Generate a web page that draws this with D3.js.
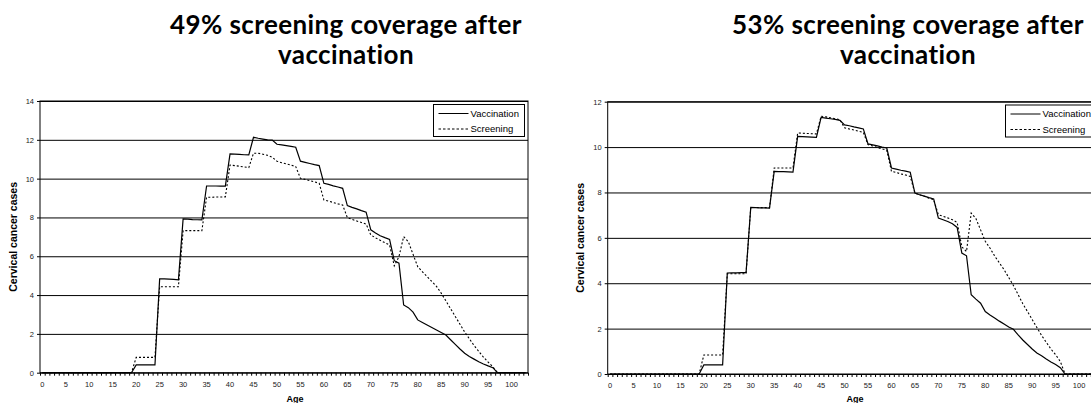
<!DOCTYPE html>
<html>
<head>
<meta charset="utf-8">
<script src="https://cdn.jsdelivr.net/npm/d3@7"></script>
<style>
  html, body { margin: 0; padding: 0; background: #fff; overflow: hidden; }
  svg { display: block; }
  .tick text { font-family: "Liberation Sans", Arial, sans-serif; }
</style>
</head>
<body>
<svg id="chart" width="1091" height="403"></svg>
<script>
// ages 0..103 (one category per year)
const ages = d3.range(0, 104);
const ageLabels = ages.filter(a => a % 5 === 0);

// 49% screening coverage
const vaccination49 = [
  0,0,0,0,0, 0,0,0,0,0, 0,0,0,0,0, 0,0,0,0,0,
  0.4,0.4,0.4,0.4,0.4,
  4.83,4.83,4.82,4.81,4.78,
  7.92,7.91,7.89,7.88,7.87,
  9.62,9.62,9.62,9.61,9.61,
  11.27,11.26,11.25,11.23,11.22,
  12.13,12.08,12.04,12.0,11.99,
  11.77,11.74,11.7,11.66,11.62,
  10.9,10.84,10.78,10.72,10.67,
  9.76,9.7,9.63,9.57,9.5,
  8.61,8.52,8.44,8.35,8.27,
  7.36,7.2,7.06,6.96,6.87,
  5.77,5.64,3.49,3.35,3.12,
  2.72,2.59,2.46,2.33,2.2,
  2.07,1.94,1.7,1.46,1.22,
  1.0,0.84,0.7,0.56,0.45,
  0.35,0.26,0,0,0,
  0,0,0,0
];
const screening49 = [
  0,0,0,0,0, 0,0,0,0,0, 0,0,0,0,0, 0,0,0,0,0,
  0.79,0.79,0.79,0.79,0.79,
  4.43,4.43,4.43,4.43,4.43,
  7.32,7.32,7.32,7.32,7.32,
  9.04,9.04,9.05,9.05,9.06,
  10.7,10.67,10.64,10.6,10.57,
  11.31,11.31,11.26,11.2,11.1,
  10.9,10.82,10.76,10.7,10.62,
  10.02,9.96,9.9,9.83,9.76,
  8.9,8.84,8.77,8.7,8.64,
  7.99,7.9,7.82,7.74,7.66,
  7.1,6.95,6.82,6.7,6.58,
  5.5,5.98,7.01,6.75,6.1,
  5.46,5.2,4.95,4.7,4.45,
  4.1,3.7,3.3,2.9,2.5,
  2.1,1.75,1.4,1.1,0.8,
  0.55,0.3,0,0,0,
  0,0,0,0
];

// 53% screening coverage
const vaccination53 = [
  0,0,0,0,0, 0,0,0,0,0, 0,0,0,0,0, 0,0,0,0,0,
  0.4,0.4,0.4,0.4,0.4,
  4.45,4.46,4.46,4.47,4.47,
  7.34,7.33,7.32,7.32,7.31,
  8.93,8.92,8.92,8.91,8.9,
  10.47,10.46,10.45,10.44,10.43,
  11.31,11.28,11.25,11.22,11.18,
  10.98,10.94,10.89,10.85,10.8,
  10.14,10.1,10.05,10.0,9.96,
  9.08,9.03,8.98,8.94,8.89,
  7.97,7.9,7.84,7.77,7.71,
  6.87,6.8,6.72,6.62,6.46,
  5.33,5.21,3.49,3.3,3.12,
  2.75,2.6,2.47,2.33,2.2,
  2.07,1.97,1.72,1.5,1.3,
  1.1,0.93,0.8,0.66,0.53,
  0.42,0.28,0,0,0,
  0,0,0,0
];
const screening53 = [
  0,0,0,0,0, 0,0,0,0,0, 0,0,0,0,0, 0,0,0,0,0,
  0.84,0.84,0.84,0.84,0.84,
  4.42,4.42,4.42,4.42,4.42,
  7.34,7.34,7.33,7.33,7.33,
  9.08,9.08,9.08,9.08,9.08,
  10.62,10.61,10.6,10.59,10.58,
  11.36,11.33,11.29,11.25,11.21,
  10.85,10.8,10.75,10.7,10.65,
  10.11,10.05,9.98,9.92,9.86,
  8.93,8.88,8.82,8.77,8.71,
  7.97,7.9,7.83,7.75,7.68,
  7.02,6.95,6.88,6.8,6.68,
  5.6,5.4,7.09,6.85,6.35,
  5.85,5.55,5.2,4.9,4.6,
  4.25,3.9,3.5,3.1,2.75,
  2.4,2.05,1.7,1.4,1.1,
  0.85,0.55,0,0,0,
  0,0,0,0
];

const yTicks49 = [0, 2, 4, 6, 8, 10, 12, 14];
const yTicks53 = [0, 2, 4, 6, 8, 10, 12];
const seriesNames = ['Vaccination', 'Screening'];

const svg = d3.select('#chart');
const font = '"Liberation Sans", Arial, sans-serif';

function drawPanel(p) {
  const g = svg.append('g');

  const x = d3.scaleBand().domain(ages).range([p.left, p.right]).paddingInner(0).paddingOuter(0);
  const xMinor = d3.scaleLinear().domain([0, ages.length]).range([p.left, p.right]);
  const y = d3.scaleLinear().domain([0, d3.max(p.yTicks)]).range([p.bottom, p.top]);
  const cx = a => x(a) + x.bandwidth() / 2;

  // horizontal gridlines
  g.append('g')
    .attr('transform', `translate(${p.left},0)`)
    .call(d3.axisLeft(y).tickValues(p.yTicks).tickSize(-(p.right - p.left)).tickFormat(''))
    .call(s => s.select('.domain').remove())
    .selectAll('line').attr('stroke', '#000').attr('stroke-width', 1);

  // y axis ticks + labels
  g.append('g')
    .attr('transform', `translate(${p.left},0)`)
    .call(d3.axisLeft(y).tickValues(p.yTicks).tickSize(3).tickPadding(3))
    .call(s => s.select('.domain').remove())
    .call(s => s.selectAll('line').attr('stroke', '#000'))
    .call(s => s.selectAll('text').attr('font-size', 7.5).attr('fill', '#222'));

  // x minor ticks at category boundaries
  g.append('g')
    .attr('transform', `translate(0,${p.bottom})`)
    .call(d3.axisBottom(xMinor).tickValues(d3.range(0, ages.length + 1)).tickSize(3).tickFormat(''))
    .call(s => s.select('.domain').remove())
    .selectAll('line').attr('stroke', '#000');

  // x labels at category centres
  g.append('g')
    .attr('transform', `translate(0,${p.bottom})`)
    .call(d3.axisBottom(x).tickValues(ageLabels).tickSize(0).tickPadding(9))
    .call(s => s.select('.domain').remove())
    .call(s => s.selectAll('text').attr('font-size', 7.5).attr('fill', '#222'));

  // plot border
  g.append('rect')
    .attr('x', p.left).attr('y', p.top)
    .attr('width', p.right - p.left).attr('height', p.bottom - p.top)
    .attr('fill', 'none').attr('stroke', '#000').attr('stroke-width', 1);

  const line = d3.line().x((d, i) => cx(ages[i])).y(d => y(d));

  g.append('path').datum(p.screening)
    .attr('d', line).attr('fill', 'none')
    .attr('stroke', '#000').attr('stroke-width', 1.1)
    .attr('stroke-dasharray', '2,2');

  g.append('path').datum(p.vaccination)
    .attr('d', line).attr('fill', 'none')
    .attr('stroke', '#000').attr('stroke-width', 1.2);

  // axis titles
  g.append('text')
    .attr('transform', `translate(${p.yTitleX},${(p.top + p.bottom) / 2}) rotate(-90)`)
    .attr('text-anchor', 'middle')
    .attr('font-family', font).attr('font-weight', 'bold').attr('font-size', 10.5)
    .text('Cervical cancer cases');

  g.append('text')
    .attr('x', p.ageX).attr('y', 402)
    .attr('text-anchor', 'middle')
    .attr('font-family', font).attr('font-weight', 'bold').attr('font-size', 9)
    .text('Age');

  // legend
  const lg = g.append('g').attr('transform', `translate(${p.legendX},${p.legendY})`);
  lg.append('rect').attr('width', 91).attr('height', 32)
    .attr('fill', '#fff').attr('stroke', '#000').attr('stroke-width', 1);
  seriesNames.forEach((name, i) => {
    const ly = 9 + i * 15.5;
    lg.append('line').attr('x1', 5).attr('x2', 35).attr('y1', ly).attr('y2', ly)
      .attr('stroke', '#000').attr('stroke-width', 1)
      .attr('stroke-dasharray', i === 1 ? '2.5,2' : null);
    lg.append('text').attr('x', 37).attr('y', ly + 3.3)
      .attr('font-family', font).attr('font-size', 9.5)
      .text(name);
  });

  // title (two centred lines)
  const tf = 'Lato, "Open Sans", sans-serif';
  [p.title1, 'vaccination'].forEach((t, i) => {
    g.append('text').attr('x', p.tx).attr('y', 34 + i * 30).attr('text-anchor', 'middle')
      .attr('font-family', tf).attr('font-weight', 'bold').attr('font-size', 26)
      .attr('letter-spacing', 0.4)
      .text(t);
  });
}

drawPanel({
  left: 40, right: 528, top: 101, bottom: 372.7,
  yTicks: yTicks49, vaccination: vaccination49, screening: screening49,
  yTitleX: 17, ageX: 295, legendX: 433.5, legendY: 104.5,
  title1: '49% screening coverage after', tx: 346
});

drawPanel({
  left: 607.7, right: 1095.5, top: 101.7, bottom: 374,
  yTicks: yTicks53, vaccination: vaccination53, screening: screening53,
  yTitleX: 584, ageX: 855, legendX: 1005.5, legendY: 105,
  title1: '53% screening coverage after', tx: 908
});
</script>
</body>
</html>
